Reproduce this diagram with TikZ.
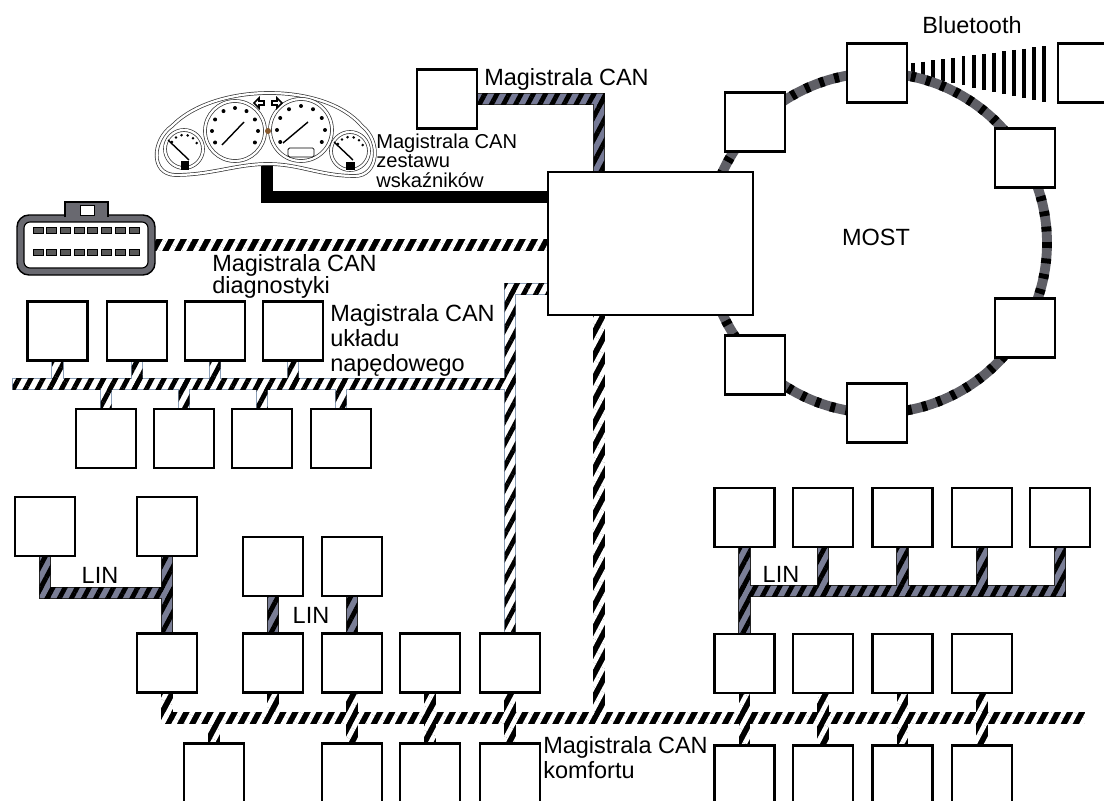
\documentclass[tikz,border=0pt]{standalone}
\usepackage{fontspec}
\setmainfont{Liberation Sans}
\usetikzlibrary{calc,patterns.meta}
\pgfdeclarelayer{background}
\pgfsetlayers{background,main}

\definecolor{canfill}{RGB}{118,122,150}
\definecolor{linfill}{RGB}{122,126,150}
\definecolor{drvedge}{RGB}{140,160,185}
\definecolor{ringgrey}{RGB}{95,95,102}
\definecolor{obdgrey}{RGB}{105,105,112}

% slanted stripes over one straight piece of a bus
\newcommand{\hatchseg}[4][6]{\fill[pattern={Lines[angle=62,distance=7.6pt,line width=3.4pt]},pattern color=#2] ($(#3)+(-#1,-#1)$) rectangle ($(#4)+(#1,#1)$);}

\begin{document}
\begin{tikzpicture}
  [x=0.025cm, y=-0.025cm,
   ecu/.style={draw, line width=1.8pt, fill=white, minimum width=1.5cm, minimum height=1.475cm, inner sep=0pt},
   gate/.style={ecu, minimum width=5.125cm, minimum height=3.575cm},
   lbl/.style={font=\fontsize{16.7}{17.8}\selectfont, align=left, anchor=north west, inner sep=0pt},
   tag/.style={font=\fontsize{16.7}{17.8}\selectfont, inner sep=0pt},
   canbus/.style={draw=black!80, line width=0.7pt, double=canfill, double distance=7.8pt, line cap=rect},
   linbus/.style={draw=black!85, line width=0.7pt, double=linfill, double distance=7.8pt, line cap=rect},
   drivebus/.style={draw=drvedge, line width=0.7pt, double=white, double distance=7.8pt, line cap=rect},
   comfbus/.style={draw=black, line width=8.5pt, line cap=rect},
   diagbus/.style={draw=black, line width=8pt, line cap=rect},
   dashbus/.style={draw=black, line width=8pt, line cap=rect},
   most/.style={draw=ringgrey, line width=7pt, postaction={draw=black, line width=7pt, dash pattern=on 3.5pt off 7.5pt}},
   dial/.style={draw=black!80, line width=0.5pt, double=white, double distance=1.6pt, fill=white}]

  \useasboundingbox (0,0) rectangle (1104,801);

  \node[gate] (gw) at (650.5,243.5) {};
  \node[ecu] (tc) at (447,99) {};

  \node[ecu] (m1) at (877,73) {};
  \node[ecu] (m2) at (755,122) {};
  \node[ecu] (m3) at (1025,158) {};
  \node[ecu] (m4) at (1025,328) {};
  \node[ecu] (m5) at (877,413) {};
  \node[ecu] (m6) at (755,365) {};
  \node[ecu] (bt) at (1088,73) {};

  \node[ecu] (p1) at (57.5,331) {};
  \node[ecu] (p2) at (137,331) {};
  \node[ecu] (p3) at (215,331) {};
  \node[ecu] (p4) at (293,331) {};
  \node[ecu] (q1) at (106,438.5) {};
  \node[ecu] (q2) at (184,438.5) {};
  \node[ecu] (q3) at (262,438.5) {};
  \node[ecu] (q4) at (341,438.5) {};

  \node[ecu] (la) at (45,526.5) {};
  \node[ecu] (lb) at (167,526.5) {};
  \node[ecu] (lc) at (273,566.5) {};
  \node[ecu] (ld) at (352,566.5) {};

  \node[ecu] (c1) at (167,663) {};
  \node[ecu] (c2) at (273,663) {};
  \node[ecu] (c3) at (352,663) {};
  \node[ecu] (c4) at (430,663) {};
  \node[ecu] (c5) at (510,663) {};
  \node[ecu] (d1) at (214,773) {};
  \node[ecu] (d2) at (352,773) {};
  \node[ecu] (d3) at (430,773) {};
  \node[ecu] (d4) at (510,773) {};

  \node[ecu] (l1) at (744.5,517.5) {};
  \node[ecu] (l2) at (823,517.5) {};
  \node[ecu] (l3) at (902.5,517.5) {};
  \node[ecu] (l4) at (982,517.5) {};
  \node[ecu] (l5) at (1060,517.5) {};
  \node[ecu] (r1) at (744.5,663.5) {};
  \node[ecu] (r2) at (823,663.5) {};
  \node[ecu] (r3) at (902.5,663.5) {};
  \node[ecu] (r4) at (982,663.5) {};
  \node[ecu] (s1) at (744.5,775) {};
  \node[ecu] (s2) at (823,775) {};
  \node[ecu] (s3) at (902.5,775) {};
  \node[ecu] (s4) at (982,775) {};

  \coordinate (t1) at (599,99);
  \coordinate (ic) at (267,168);
  \coordinate (ik) at (267,197);
  \coordinate (obd) at (155,245);
  \coordinate (pw) at (18,384);
  \coordinate (pj) at (510,384);
  \coordinate (pt) at (510,289);
  \coordinate (kt) at (599,315);
  \coordinate (kw) at (167,718);
  \coordinate (ke) at (1079,718);
  \coordinate (lj) at (167,593);
  \coordinate (lr) at (1060,591);

  \begin{pgfonlayer}{background}
    % bluetooth link
    \foreach \i in {0,...,13}
      \draw[line width=2.8pt] ({913+10.1*\i},{63-1.3*\i}) -- ({913+10.1*\i},{75+2.1*\i});

    \draw[most] (877,243) circle[radius=170];

    \draw[canbus] (tc.east) -- (t1) -- (t1 |- gw.north);
    \hatchseg[5.5]{black}{tc.east}{t1}
    \hatchseg[5.5]{black}{t1}{t1 |- gw.north}

    \draw[dashbus] (ic) -- (ik) -- (ik -| gw.west);

    \draw[diagbus] (obd) -- (obd -| gw.west);
    \hatchseg[5.6]{white}{obd}{obd -| gw.west}

    \draw[drivebus] (pw) -- (pj) (gw.west |- pt) -- (pt) -- (c5.north)
      (p1.south) -- (p1.south |- pj) (p2.south) -- (p2.south |- pj)
      (p3.south) -- (p3.south |- pj) (p4.south) -- (p4.south |- pj)
      (q1.north) -- (q1.north |- pj) (q2.north) -- (q2.north |- pj)
      (q3.north) -- (q3.north |- pj) (q4.north) -- (q4.north |- pj);
    \hatchseg[5.5]{black}{pw}{pj}
    \hatchseg[5.5]{black}{pt}{gw.west |- pt}
    \hatchseg[5.5]{black}{pt}{c5.north}
    \hatchseg[5.5]{black}{p1.south}{p1.south |- pj}
    \hatchseg[5.5]{black}{p2.south}{p2.south |- pj}
    \hatchseg[5.5]{black}{p3.south}{p3.south |- pj}
    \hatchseg[5.5]{black}{p4.south}{p4.south |- pj}
    \hatchseg[5.5]{black}{q1.north |- pj}{q1.north}
    \hatchseg[5.5]{black}{q2.north |- pj}{q2.north}
    \hatchseg[5.5]{black}{q3.north |- pj}{q3.north}
    \hatchseg[5.5]{black}{q4.north |- pj}{q4.north}

    \draw[comfbus] (c1.south) -- (kw) -- (ke) (kt) -- (kt |- kw)
      (c2.south) -- (c2.south |- kw) (c3.south) -- (d2.north)
      (c4.south) -- (d3.north) (c5.south) -- (d4.north)
      (d1.north) -- (d1.north |- kw)
      (r1.south) -- (s1.north) (r2.south) -- (s2.north)
      (r3.south) -- (s3.north) (r4.south) -- (s4.north);
    \hatchseg{white}{c1.south}{kw}
    \hatchseg{white}{kw}{ke}
    \hatchseg{white}{kt}{kt |- kw}
    \hatchseg{white}{c2.south}{c2.south |- kw}
    \hatchseg{white}{c3.south}{d2.north}
    \hatchseg{white}{c4.south}{d3.north}
    \hatchseg{white}{c5.south}{d4.north}
    \hatchseg{white}{d1.north |- kw}{d1.north}
    \hatchseg{white}{r1.south}{s1.north}
    \hatchseg{white}{r2.south}{s2.north}
    \hatchseg{white}{r3.south}{s3.north}
    \hatchseg{white}{r4.south}{s4.north}

    \draw[linbus] (la.south) |- (lj) (lb.south) -- (c1.north)
      (lc.south) -- (c2.north) (ld.south) -- (c3.north)
      (l1.south) -- (r1.north) (l1.south |- lr) -- (lr) -- (l5.south)
      (l2.south) -- (l2.south |- lr) (l3.south) -- (l3.south |- lr)
      (l4.south) -- (l4.south |- lr);
    \hatchseg[5.5]{black}{la.south}{la.south |- lj}
    \hatchseg[5.5]{black}{la.south |- lj}{lj}
    \hatchseg[5.5]{black}{lb.south}{c1.north}
    \hatchseg[5.5]{black}{lc.south}{c2.north}
    \hatchseg[5.5]{black}{ld.south}{c3.north}
    \hatchseg[5.5]{black}{l1.south}{r1.north}
    \hatchseg[5.5]{black}{l1.south |- lr}{lr}
    \hatchseg[5.5]{black}{l2.south}{l2.south |- lr}
    \hatchseg[5.5]{black}{l3.south}{l3.south |- lr}
    \hatchseg[5.5]{black}{l4.south}{l4.south |- lr}
    \hatchseg[5.5]{black}{l5.south}{lr}
  \end{pgfonlayer}

  % instrument cluster
  \draw[dial] (175,175) .. controls (150,174) and (152,140) .. (172,126)
    .. controls (215,82) and (325,82) .. (362,126)
    .. controls (382,142) and (378,176) .. (355,176)
    .. controls (320,176) and (300,164) .. (268,164)
    .. controls (236,164) and (212,175) .. (175,175) -- cycle;
  \draw[dial] (235,131) circle[radius=30];
  \draw[dial] (301,130) circle[radius=31];
  \draw[dial] (184,149) circle[radius=19];
  \draw[dial] (350,151) circle[radius=19];
  \foreach \a in {150,180,...,390} {
    \fill ($(235,131)+(\a:23)$) circle[radius=2];
    \fill ($(301,130)+(\a:24)$) circle[radius=2];
  }
  \foreach \a in {210,235,...,335} {
    \fill ($(184,149)+(\a:14)$) circle[radius=1.4];
    \fill ($(350,151)+(\a:14)$) circle[radius=1.4];
  }
  \draw[line width=1pt] (222,145) -- (244,122);
  \draw[line width=1pt] (283,143) -- (308,122);
  \draw[line width=0.6pt, rounded corners=1pt] (288,148) rectangle (314,157);
  \draw[line width=1pt] (168,140) -- (189,160);
  \fill (181,161) rectangle (189,170);
  \draw[line width=1pt] (334,142) -- (353,160);
  \fill (346,162) rectangle (355,170);
  \draw[line width=1.1pt] (254,103) -- (259,98) -- (259,101) -- (264,101) -- (264,105) -- (259,105) -- (259,108) -- cycle;
  \draw[line width=1.1pt] (282,103) -- (277,98) -- (277,101) -- (272,101) -- (272,105) -- (277,105) -- (277,108) -- cycle;
  \fill[brown!70!black] (268,131) circle[radius=3];

  % diagnostic socket
  \draw[line width=1pt, fill=obdgrey, rounded corners=0.3cm] (17,215) rectangle (155,275);
  \draw[line width=0.8pt, fill=white, rounded corners=0.15cm] (24,222) rectangle (148,268);
  \filldraw[line width=0.8pt, fill=obdgrey] (65,217) -- (65,202) -- (108,202) -- (108,217);
  \draw[line width=0.6pt, fill=white] (80,205) rectangle (94,215);
  \foreach \i in {0,...,7} {
    \draw[line width=0.5pt, fill=black!65] ({33+13.7*\i},227) rectangle ({43+13.7*\i},233);
    \draw[line width=0.5pt, fill=black!65] ({33+13.7*\i},249) rectangle ({43+13.7*\i},255);
  }

  \node[tag] (btlbl) at (972,25) {Bluetooth};
  \node[tag] (mostlbl) at (876,237) {MOST};
  \node[lbl] (canlbl) at (484,68) {Magistrala CAN};
  \node[lbl, font=\fontsize{14.3}{13.6}\selectfont] (dashlbl) at (376,134) {Magistrala CAN\\zestawu\\wskaźników};
  \node[lbl, font=\fontsize{16.7}{15.8}\selectfont] (diaglbl) at (212,254) {Magistrala CAN\\diagnostyki};
  \node[lbl] (drvlbl) at (330,304) {Magistrala CAN\\układu\\napędowego};
  \node[lbl] (comflbl) at (543,736) {Magistrala CAN\\komfortu};
  \node[tag] (lin1) at (100,575) {LIN};
  \node[tag] (lin2) at (311,615) {LIN};
  \node[tag] (lin3) at (781,574) {LIN};

\end{tikzpicture}
\end{document}
